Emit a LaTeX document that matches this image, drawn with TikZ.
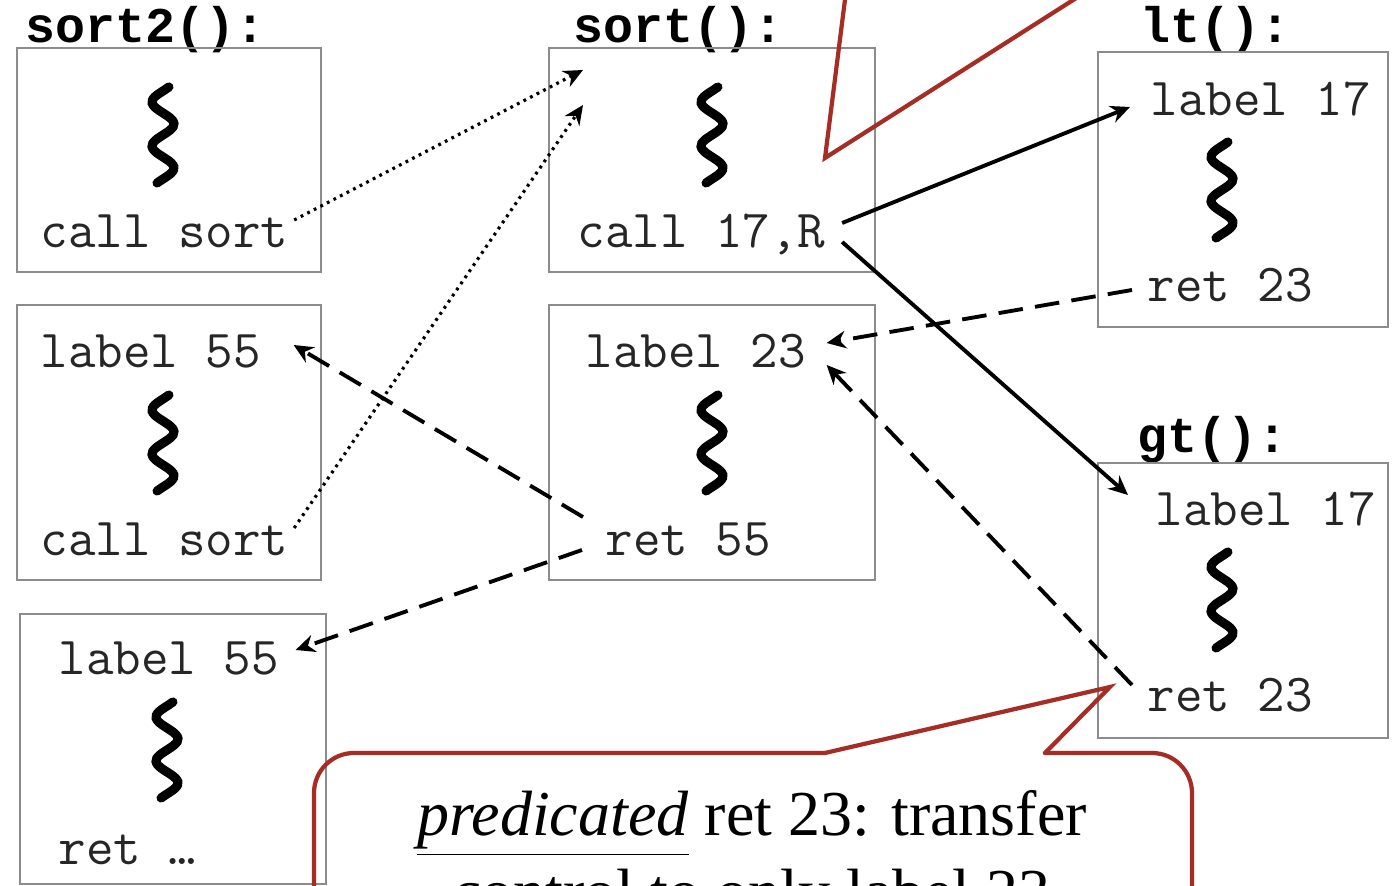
\documentclass[tikz,border=0pt]{standalone}
\usepackage{fontspec}
\setmainfont{Liberation Serif}
\newfontfamily\titlemono{Liberation Mono}
\usepackage{tikz}
\usetikzlibrary{arrows.meta, calc}
\definecolor{calloutred}{RGB}{166,45,35}

\begin{document}
\begin{tikzpicture}[
    x=0.01cm, y=-0.01cm,
    frame/.style = {rectangle, draw=black!45, line width=0.7pt, inner sep=0pt},
    code/.style = {font=\ttfamily\fontsize{15.2}{17}\selectfont, text=black!85, inner sep=0pt, anchor=base west},
    fname/.style = {font=\titlemono\bfseries\fontsize{14.2}{16}\selectfont, inner sep=0pt, anchor=base west},
    squiggle/.pic = {\draw[line width=2.6pt, line cap=round] plot[smooth, samples=30, domain=2:98] ({-11*sin(8.1818*(\x-6))}, {\x});},
    callarrow/.style = {draw=black, line width=0.9pt, dash pattern=on 0.8pt off 1.3pt, -{Stealth[length=5.5pt, width=5pt]}},
    retarrow/.style = {draw=black, line width=1.1pt, dash pattern=on 7pt off 3.5pt, -{Stealth[length=5.5pt, width=5pt]}},
    jumparrow/.style = {draw=black, line width=1.1pt, -{Stealth[length=5.5pt, width=5pt]}},
    callout/.style = {draw=calloutred, line width=1.2pt, line cap=round, line join=miter}
]
\useasboundingbox (0,0) rectangle (1399,886);

% sort2()
\node (t_sort2) [fname] at (25,43) {sort2():};
\node (box_a) [frame, minimum width=3.04cm, minimum height=2.24cm] at (169,160) {};
\pic at (163,85) {squiggle};
\node (a_call) [code] at (40,248) {call sort};

\node (box_b) [frame, minimum width=3.04cm, minimum height=2.75cm] at (169,442.5) {};
\node (b_label) [code] at (40,368) {label 55};
\pic at (163,393) {squiggle};
\node (b_call) [code] at (40,556) {call sort};

\node (box_c) [frame, minimum width=3.06cm, minimum height=2.70cm] at (173,749) {};
\node (c_label) [code] at (58,675) {label 55};
\pic at (167,700) {squiggle};
\node (c_ret) [code] at (58,865) {ret …};

% sort()
\node (t_sort) [fname] at (573,43) {sort():};
\node (box_d) [frame, minimum width=3.26cm, minimum height=2.24cm] at (712,160) {};
\pic at (712,85) {squiggle};
\node (d_call) [code] at (577,248) {call 17,R};
\coordinate (d_entry1) at (583,70);
\coordinate (d_entry2) at (583,105);

\node (box_e) [frame, minimum width=3.26cm, minimum height=2.75cm] at (712,442.5) {};
\node (e_label) [code] at (585,368) {label 23};
\pic at (712,393) {squiggle};
\node (e_ret) [code] at (605,556) {ret 55};

% lt()
\node (t_lt) [fname] at (1140,43) {lt():};
\node (box_f) [frame, minimum width=2.90cm, minimum height=2.75cm] at (1243,189.5) {};
\node (f_label) [code] at (1150,116) {label 17};
\pic at (1222,140) {squiggle};
\node (f_ret) [code] at (1147,302) {ret 23};

% gt()
\node (t_gt) [fname] at (1137,453) {gt():};
\node (box_g) [frame, minimum width=2.90cm, minimum height=2.75cm] at (1243,600.5) {};
\node (g_label) [code] at (1155,526) {label 17};
\pic at (1222,550) {squiggle};
\node (g_ret) [code] at (1147,712) {ret 23};

% calls
\draw [callarrow] ($(a_call.base east)+(5,-28)$) -- (d_entry1);
\draw [callarrow] ($(b_call.base east)+(5,-28)$) -- (d_entry2);
\draw [jumparrow] ($(d_call.base east)+(16,-25)$) -- ($(f_label.base west)+(-20,-9)$);
\draw [jumparrow] ($(d_call.base east)+(16,-6)$) -- ($(g_label.base west)+(-27,-31)$);

% returns
\draw [retarrow] ($(e_ret.base west)+(-22,-39)$) -- ($(b_label.base east)+(32,-23)$);
\draw [retarrow] ($(e_ret.base west)+(-23,-6)$) -- ($(c_label.base east)+(16,-25)$);
\draw [retarrow] ($(f_ret.base west)+(-15,-12)$) -- ($(e_label.base east)+(20,-25)$);
\draw [retarrow] ($(g_ret.base west)+(-15,-27)$) -- ($(e_label.base east)+(20,-3)$);

% top callout pointer
\draw [callout] (850,-40) -- (825,158) -- (1136,-40);

% bottom callout
\draw [callout, rounded corners=0.4cm] (825,753) -- (314,753) -- (314,1000);
\draw [callout] (825,753) -- (1110,687) -- (1045,753);
\draw [callout, rounded corners=0.4cm] (1045,753) -- (1192,753) -- (1192,1000);
\node (note) [font=\fontsize{18.2}{22}\selectfont, align=center, inner sep=0pt, anchor=north] at (752,790) {\underline{\textit{predicated}} ret 23: transfer\\control to only label 23};

\end{tikzpicture}
\end{document}
